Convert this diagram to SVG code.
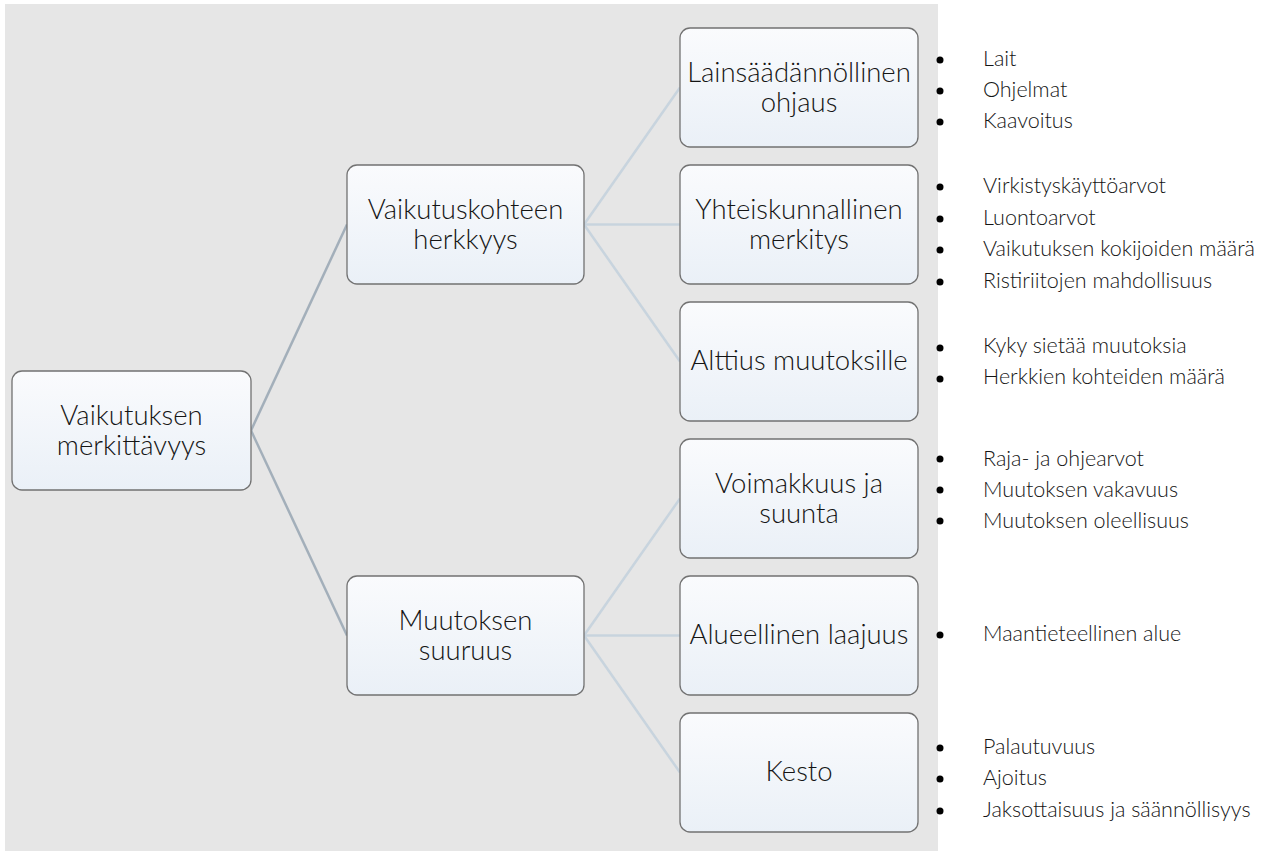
<svg xmlns="http://www.w3.org/2000/svg" width="1285" height="852" viewBox="0 0 1285 852">
<defs>
<linearGradient id="boxfill" x1="0" y1="0" x2="0" y2="1">
<stop offset="0" stop-color="#fafbfd"/>
<stop offset="1" stop-color="#eaf0f7"/>
</linearGradient>
<style>
.box{fill:url(#boxfill);stroke:#727272;stroke-width:1.3}
.lbl{font-family:Lato,"Liberation Sans",sans-serif;font-weight:300;font-size:27.5px;fill:#151515;text-anchor:middle}
.bul{font-family:Lato,"Liberation Sans",sans-serif;font-weight:300;font-size:21.5px;fill:#151515}
.dot{fill:#000}
.c1{stroke:#a3afba;stroke-width:2.5;fill:none}
.c2{stroke:#c8d4de;stroke-width:2.5;fill:none}
</style>
</defs>
<rect x="5" y="4" width="933" height="847" fill="#e6e6e6"/>
<g id="connectors">
<line class="c1" x1="251" y1="430.5" x2="347" y2="224.5"/>
<line class="c1" x1="251" y1="430.5" x2="347" y2="635.5"/>
<line class="c2" x1="584" y1="224.5" x2="680" y2="87.5"/>
<line class="c2" x1="584" y1="224.5" x2="680" y2="224.5"/>
<line class="c2" x1="584" y1="224.5" x2="680" y2="361.5"/>
<line class="c2" x1="584" y1="635.5" x2="680" y2="498.5"/>
<line class="c2" x1="584" y1="635.5" x2="680" y2="635.5"/>
<line class="c2" x1="584" y1="635.5" x2="680" y2="772.5"/>
</g>
<g id="root">
<rect class="box" x="12" y="371" width="239" height="119" rx="10"/>
<text class="lbl" x="131.5" y="425">Vaikutuksen</text>
<text class="lbl" x="131.5" y="455">merkittävyys</text>
</g>
<g id="herkkyys">
<rect class="box" x="347" y="165" width="237" height="119" rx="10"/>
<text class="lbl" x="465.5" y="219">Vaikutuskohteen</text>
<text class="lbl" x="465.5" y="249">herkkyys</text>
</g>
<g id="suuruus">
<rect class="box" x="347" y="576" width="237" height="119" rx="10"/>
<text class="lbl" x="465.5" y="630">Muutoksen</text>
<text class="lbl" x="465.5" y="660">suuruus</text>
</g>
<g id="lainsaadannollinen">
<rect class="box" x="680" y="28" width="238" height="119" rx="10"/>
<text class="lbl" x="799" y="82">Lainsäädännöllinen</text>
<text class="lbl" x="799" y="112">ohjaus</text>
</g>
<g id="yhteiskunnallinen">
<rect class="box" x="680" y="165" width="238" height="119" rx="10"/>
<text class="lbl" x="799" y="219">Yhteiskunnallinen</text>
<text class="lbl" x="799" y="249">merkitys</text>
</g>
<g id="alttius">
<rect class="box" x="680" y="302" width="238" height="119" rx="10"/>
<text class="lbl" x="799" y="370">Alttius muutoksille</text>
</g>
<g id="voimakkuus">
<rect class="box" x="680" y="439" width="238" height="119" rx="10"/>
<text class="lbl" x="799" y="493">Voimakkuus ja</text>
<text class="lbl" x="799" y="523">suunta</text>
</g>
<g id="alueellinen">
<rect class="box" x="680" y="576" width="238" height="119" rx="10"/>
<text class="lbl" x="799" y="644">Alueellinen laajuus</text>
</g>
<g id="kesto">
<rect class="box" x="680" y="713" width="238" height="119" rx="10"/>
<text class="lbl" x="799" y="781">Kesto</text>
</g>
<g id="bullets">
<circle class="dot" cx="940" cy="60" r="3.5"/><text class="bul" x="983" y="66">Lait</text>
<circle class="dot" cx="940" cy="91" r="3.5"/><text class="bul" x="983" y="97">Ohjelmat</text>
<circle class="dot" cx="940" cy="122" r="3.5"/><text class="bul" x="983" y="128">Kaavoitus</text>
<circle class="dot" cx="940" cy="187" r="3.5"/><text class="bul" x="983" y="193">Virkistyskäyttöarvot</text>
<circle class="dot" cx="940" cy="219" r="3.5"/><text class="bul" x="983" y="225">Luontoarvot</text>
<circle class="dot" cx="940" cy="250" r="3.5"/><text class="bul" x="983" y="256">Vaikutuksen kokijoiden määrä</text>
<circle class="dot" cx="940" cy="282" r="3.5"/><text class="bul" x="983" y="288">Ristiriitojen mahdollisuus</text>
<circle class="dot" cx="940" cy="348" r="3.5"/><text class="bul" x="983" y="353">Kyky sietää muutoksia</text>
<circle class="dot" cx="940" cy="379" r="3.5"/><text class="bul" x="983" y="384">Herkkien kohteiden määrä</text>
<circle class="dot" cx="940" cy="459" r="3.5"/><text class="bul" x="983" y="466">Raja- ja ohjearvot</text>
<circle class="dot" cx="940" cy="490" r="3.5"/><text class="bul" x="983" y="497">Muutoksen vakavuus</text>
<circle class="dot" cx="940" cy="521" r="3.5"/><text class="bul" x="983" y="528">Muutoksen oleellisuus</text>
<circle class="dot" cx="940" cy="635" r="3.5"/><text class="bul" x="983" y="641">Maantieteellinen alue</text>
<circle class="dot" cx="940" cy="748" r="3.5"/><text class="bul" x="983" y="754">Palautuvuus</text>
<circle class="dot" cx="940" cy="779" r="3.5"/><text class="bul" x="983" y="785">Ajoitus</text>
<circle class="dot" cx="940" cy="811" r="3.5"/><text class="bul" x="983" y="817">Jaksottaisuus ja säännöllisyys</text>
</g>
</svg>
